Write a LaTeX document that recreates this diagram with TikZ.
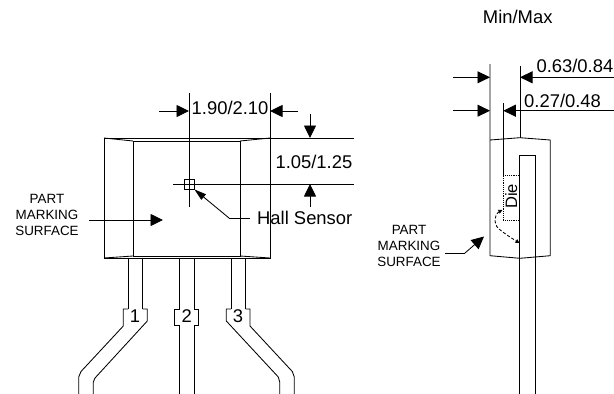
\documentclass[tikz,border=0pt]{standalone}
\usepackage{fontspec}
\setmainfont{Liberation Sans}
\usetikzlibrary{arrows.meta}
\tikzstyle{ln}=[line width=0.85pt, color=black]
\tikzstyle{dim}=[ln, -{Triangle[length=12.5pt,width=12pt]}]
\tikzstyle{big}=[inner sep=0pt, font=\fontsize{18.4}{18.4}\selectfont]
\tikzstyle{small}=[inner sep=0pt, align=center, font=\fontsize{13.4}{16.4}\selectfont]
\begin{document}
\begin{tikzpicture}[x=1pt, y=-1pt]
    \useasboundingbox (0,0) rectangle (614,394);
    \begin{scope}
    \clip (0,0) rectangle (614,394);

    % front view, outer and inner box
    \draw[ln] (104,138) rectangle (270,258);
    \draw[ln] (133,141) rectangle (240,256);
    \foreach \x/\xx in {104/133, 270/240}{
      \draw[ln] (\x,138) -- (\xx,141);
      \draw[ln] (\x,258) -- (\xx,256);
    }
    % width and height dimensions
    \draw[ln] (189,93) -- (189,207);
    \draw[ln] (270,93) -- (270,138);
    \draw[ln] (270,138) -- (354,138);
    \draw[ln] (173,184) -- (354,184);
    \draw[dim] (159,111) -- (189,111);
    \draw[dim] (298,111) -- (270,111);
    \draw[dim] (310,114) -- (310,138);
    \draw[dim] (310,207) -- (310,184);
    \node[big, anchor=west] (width) at (191.5,107.5) {1.90/2.10};
    \node[big, anchor=east] (height) at (352.5,161.5) {1.05/1.25};

    % sensor mark and its label
    \node[draw, ln, minimum size=10pt, inner sep=0pt] (mark) at (189,184) {};
    \node[big, anchor=west] (hall) at (257,218) {Hall Sensor};
    \coordinate (knee) at (229,218);
    \draw[ln] (hall.west) ++(-7,0) -- (knee);
    \draw[ln, -{Triangle[length=12pt,width=7pt]}] (knee) -- (mark.south east);

    % left marking label
    \node[small] (partl) at (47,215) {PART\\MARKING\\SURFACE};
    \draw[dim] (89,220) -- (163,220);

    % straight sides of the leads
    \foreach \x in {128, 142.7, 179.7, 194.3, 231, 245.7}{
      \draw[ln] (\x,258) -- (\x,309);
    }
    % lead 1
    \draw[ln] (128,309) -- (123.3,309) -- (123.3,326) -- (81,371.5) -- (78.7,377) -- (78.7,394);
    \draw[ln] (142.7,309) -- (147.3,309) -- (147.3,321) -- (95,378) -- (93.3,382) -- (93.3,394);
    % lead 2
    \draw[ln] (179.7,309) -- (174.7,309) -- (174.7,325.5) -- (179,325.5) -- (179,394);
    \draw[ln] (194.3,309) -- (198.3,309) -- (198.3,325.5) -- (194.3,325.5) -- (194.3,394);
    % lead 3
    \draw[ln] (231,309) -- (226.3,309) -- (226.3,321) -- (278.3,377) -- (279.7,382) -- (279.7,394);
    \draw[ln] (245.7,309) -- (250,309) -- (250,326) -- (292.3,371.5) -- (294.3,377) -- (294.3,394);
    \foreach \x/\n in {135/1, 186.7/2, 238/3}{
      \node[big] (lead\n) at (\x,316) {\n};
    }

    % side view
    \node[big] (minmax) at (517.7,17) {Min/Max};
    \draw[ln] (490,64) -- (490,140) -- (520,137.7) -- (550.3,140) -- (550.3,255.7) -- (520,258.3) -- (490,255.7) -- (490,140);
    \draw[ln] (520,66) -- (520,137.7);
    \draw[ln] (503.3,103) -- (503.3,175);
    \draw[ln] (519.5,394) -- (519.5,155) -- (535.7,155) -- (535.7,394);
    \draw[dim] (453,77.3) -- (490,77.3);
    \draw[dim] (453,110.7) -- (490,110.7);
    \draw[dim] (614,77.3) -- (520,77.3);
    \draw[dim] (614,110.7) -- (503.3,110.7);
    \node[big, anchor=east] (lead) at (613.5,66) {0.63/0.84};
    \node[big, anchor=west] (thick) at (524,100.5) {0.27/0.48};

    % die and its dashed path
    \node[draw, ln, densely dotted, minimum width=15.7pt, minimum height=45.3pt, inner sep=0pt] (diebox) at (511.2,197.7) {};
    \node[inner sep=0pt, rotate=90, font=\fontsize{16.5}{16.5}\selectfont] (die) at (511.2,196.5) {Die};
    \draw[ln, densely dashed, {Triangle[length=4pt,width=4pt]}-{Triangle[length=4pt,width=4pt]}] (502.5,210) .. controls (496,213) and (492,223) .. (499,229) .. controls (505,234) and (513,239) .. (519.5,243);

    % right marking label
    \node[small] (partr) at (409,246) {PART\\MARKING\\SURFACE};
    \coordinate (kneer) at (465,253);
    \draw[ln] (445,253) -- (kneer);
    \draw[dim] (kneer) -- (484,236.5);
    \end{scope}
  \end{tikzpicture}
\end{document}
